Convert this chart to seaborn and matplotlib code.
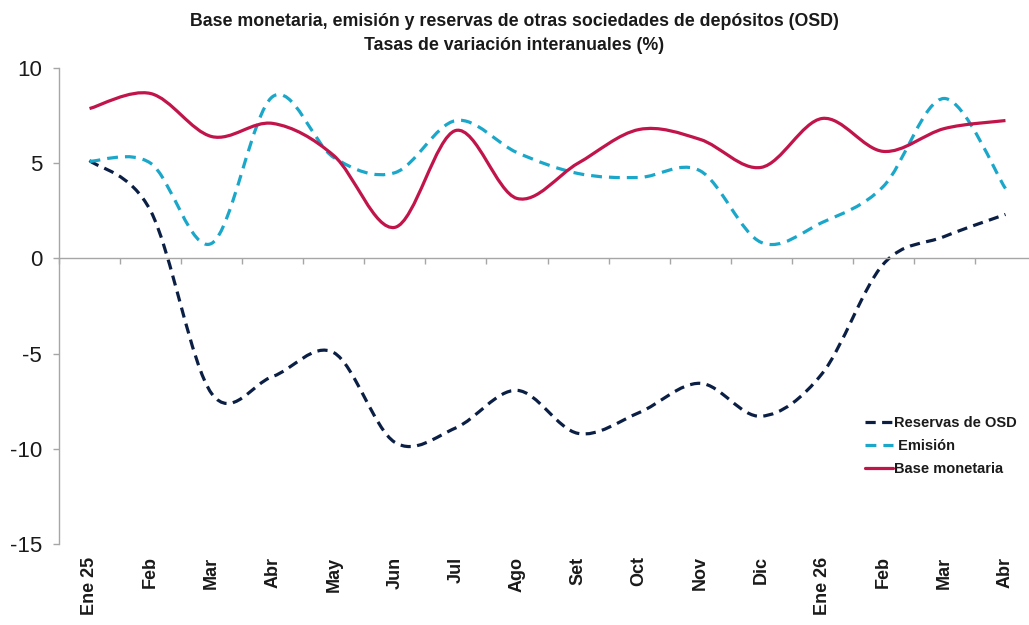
import numpy as np
import matplotlib
matplotlib.use("Agg")
import matplotlib.pyplot as plt
from matplotlib.path import Path
from matplotlib.patches import PathPatch
from matplotlib.lines import Line2D
import seaborn as sns

meses = ["Ene 25", "Feb", "Mar", "Abr", "May", "Jun", "Jul", "Ago", "Set",
         "Oct", "Nov", "Dic", "Ene 26", "Feb", "Mar", "Abr"]

reservas_osd = [5.14, 2.5, -7.1, -6.2, -4.95, -9.66, -8.9, -6.93, -9.19,
                -8.1, -6.56, -8.29, -6.04, -0.3, 1.15, 2.31]
emision = [5.1, 5.0, 0.79, 8.5, 5.3, 4.5, 7.24, 5.56, 4.46,
           4.25, 4.6, 0.84, 1.89, 3.78, 8.4, 3.67]
base_monetaria = [7.87, 8.66, 6.4, 7.09, 5.4, 1.63, 6.72, 3.15, 5.0,
                  6.77, 6.25, 4.78, 7.35, 5.62, 6.82, 7.24]

series = [
    ("Reservas de OSD", reservas_osd, "#0b1f45", (3.2, 2.0)),
    (" Emisión", emision, "#1aa7c9", (3.4, 2.2)),
    ("Base monetaria", base_monetaria, "#c0144a", None),
]

sns.set_theme(style="white")
plt.rcParams["font.family"] = ["Liberation Sans", "DejaVu Sans"]
plt.rcParams["axes.unicode_minus"] = False


def curva_suave(x, y):
    # curva tipo Excel: bezier con puntos de control estilo Catmull-Rom
    x = np.asarray(x, float)
    y = np.asarray(y, float)
    px = np.concatenate([[x[0]], x, [x[-1]]])
    py = np.concatenate([[y[0]], y, [y[-1]]])
    verts = [(x[0], y[0])]
    codes = [Path.MOVETO]
    for i in range(1, len(px) - 2):
        c1 = (px[i] + (px[i + 1] - px[i - 1]) / 6, py[i] + (py[i + 1] - py[i - 1]) / 6)
        c2 = (px[i + 1] - (px[i + 2] - px[i]) / 6, py[i + 1] - (py[i + 2] - py[i]) / 6)
        verts += [c1, c2, (px[i + 1], py[i + 1])]
        codes += [Path.CURVE4] * 3
    return Path(verts, codes)


fig = plt.figure(figsize=(10.29, 6.25), dpi=100)
ax = fig.add_axes([59 / 1029, 1 - 544 / 625, (1036 - 59) / 1029, (544 - 68) / 625])

x = np.arange(len(meses))
handles = []
for nombre, vals, color, dash in series:
    ls = (0, dash) if dash else "-"
    patch = PathPatch(curva_suave(x, vals), facecolor="none", edgecolor=color,
                      lw=2.3, linestyle=ls, capstyle="butt", zorder=3)
    ax.add_patch(patch)
    handles.append(Line2D([], [], color=color, lw=2.3, linestyle=ls))

ax.set_xlim(-0.5, len(meses) - 0.5)
ax.set_ylim(-15, 10)
ax.set_yticks([-15, -10, -5, 0, 5, 10])
ax.tick_params(axis="y", direction="out", length=4.3, width=1, color="#a6a6a6",
               labelsize=16, labelcolor="#1a1a1a", pad=7.9, left=True)

ax.set_xticks(x)
ax.set_xticklabels(meses, rotation=90, fontsize=13, fontweight="bold",
                   color="#1a1a1a", va="top")
ax.tick_params(axis="x", length=0, pad=9)

for lado in ["top", "right", "bottom"]:
    ax.spines[lado].set_visible(False)
ax.spines["left"].set_color("#a6a6a6")
ax.spines["left"].set_linewidth(1)

# eje en cero con marcas entre categorías
eje0 = ax.twiny()
eje0.set_xlim(ax.get_xlim())
eje0.xaxis.set_ticks_position("bottom")
eje0.spines["bottom"].set_position(("data", 0))
for lado in ["top", "right", "left"]:
    eje0.spines[lado].set_visible(False)
eje0.spines["bottom"].set_color("#a6a6a6")
eje0.spines["bottom"].set_linewidth(1)
eje0.set_xticks(np.arange(-0.5, len(meses), 1))
eje0.set_xticklabels([])
eje0.tick_params(axis="x", direction="out", length=4.3, width=1, color="#a6a6a6")

fig.text(0.5, 1 - 22 / 625, "Base monetaria, emisión y reservas de otras sociedades de depósitos (OSD)",
         ha="center", va="center", fontsize=12.8, fontweight="bold", color="#1a1a1a")
fig.text(0.5, 1 - 45 / 625, "Tasas de variación interanuales (%)",
         ha="center", va="center", fontsize=12.8, fontweight="bold", color="#1a1a1a")

fig.legend(handles, [s[0] for s in series], loc="upper left",
           bbox_to_anchor=(852 / 1029, 1 - 403 / 625), frameon=False,
           prop={"size": 10.5, "weight": "bold"}, handlelength=1.9,
           handletextpad=0.1, labelspacing=0.6, labelcolor="#1a1a1a")

fig.savefig("out.png", dpi=100)
